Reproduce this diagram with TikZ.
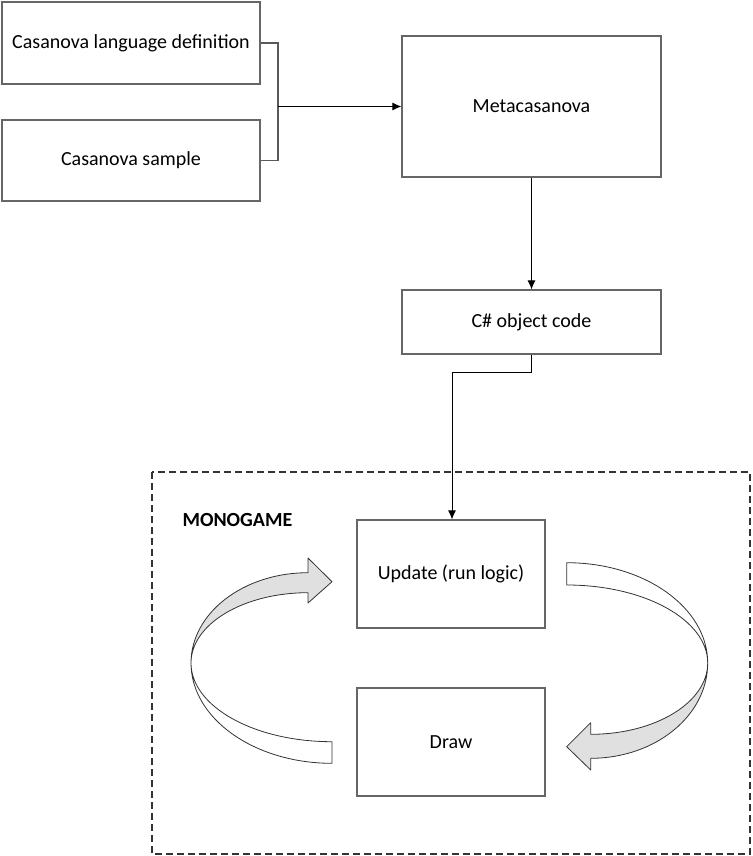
\documentclass[tikz,border=0pt]{standalone}
\usepackage{fontspec}
\setmainfont{Carlito}
\usetikzlibrary{arrows.meta}

\begin{document}
\begin{tikzpicture}[x=1pt, y=-1pt, >={Latex[length=9pt,width=8pt]}]

    % styles
    \tikzstyle{box}=[draw=black!60, line width=1.2pt, fill=white, inner sep=0pt, font=\fontsize{20}{24}\selectfont]
    \tikzstyle{feed}=[draw=black!65, line width=1.1pt]
    \tikzstyle{flow}=[->, line width=0.9pt]
    \tikzstyle{loop}=[draw=black!80, line width=0.8pt, line join=round]

    \useasboundingbox (0,0) rectangle (752,856);

    % inputs
    \node[box, minimum width=258pt, minimum height=82pt] (lang) at (131,43) {Casanova language definition};
    \node[box, minimum width=258pt, minimum height=81pt] (sample) at (131,160.5) {Casanova sample};

    % compiler and output
    \node[box, minimum width=259pt, minimum height=141pt] (meta) at (531.5,106.5) {Metacasanova};
    \node[box, minimum width=259pt, minimum height=64pt] (code) at (531.5,322) {C\# object code};

    % monogame frame
    \draw[black!80, line width=1.1pt, dash pattern=on 7pt off 4pt] (152,472) rectangle (750,854);
    \node[anchor=west, font=\bfseries\fontsize{20}{24}\selectfont] (mono) at (179,520) {MONOGAME};

    \node[box, minimum width=188pt, minimum height=108pt] (update) at (451,574) {Update (run logic)};
    \node[box, minimum width=188pt, minimum height=108pt] (draw) at (451,742) {Draw};

    % connectors
    \coordinate (join) at (278,106.5);
    \coordinate (bend) at (452,372);
    \draw[feed] (lang.east) -| (join) |- (sample.east);
    \draw[flow] (join) -- (meta.west);
    \draw[flow] (meta) -- (code);
    \draw[flow] (code.south) |- (bend) -- (bend |- update.north);

    % left loop arrow
    \draw[loop, fill=white] (191,663) arc[start angle=180, end angle=90, x radius=141, y radius=78.7]
        -- (332,763.3) arc[start angle=90, end angle=180, x radius=141, y radius=100.3] -- cycle;
    \draw[loop, fill=black!12] (191,663) arc[start angle=180, end angle=270, x radius=117, y radius=90.3]
        -- (308,558) -- (332,581.7) -- (308,603) -- (308,592.7)
        arc[start angle=270, end angle=180, x radius=117, y radius=70.3] -- cycle;

    % right loop arrow
    \draw[loop, fill=white] (566.7,562.7) arc[start angle=270, end angle=360, x radius=141, y radius=100.3]
        arc[start angle=0, end angle=-90, x radius=141, y radius=78] -- cycle;
    \draw[loop, fill=black!12] (707.7,663) arc[start angle=0, end angle=90, x radius=117, y radius=95.3]
        -- (590.7,770) -- (566.7,746.7) -- (590.7,722.7) -- (590.7,734.3)
        arc[start angle=90, end angle=0, x radius=117, y radius=71.3] -- cycle;

\end{tikzpicture}
\end{document}
